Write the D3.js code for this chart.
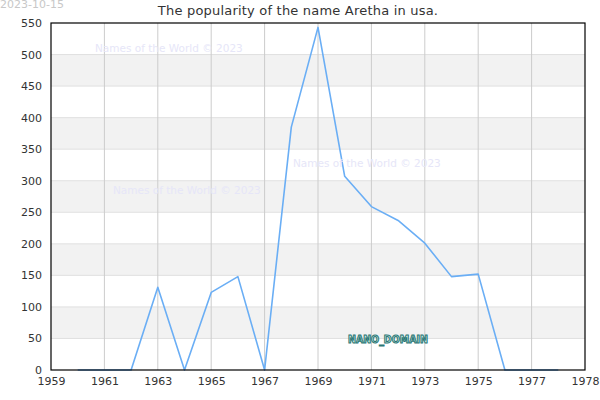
<!DOCTYPE html>
<html>
<head>
<meta charset="utf-8">
<script src="https://cdn.jsdelivr.net/npm/d3@7"></script>
<style>
  body { margin: 0; background: #fff; }
  text { font-family: "DejaVu Sans", sans-serif; }
</style>
</head>
<body>
<div class="chart"></div>
<script>
const years = [1960, 1961, 1962, 1963, 1964, 1965, 1966, 1967, 1968, 1969,
  1970, 1971, 1972, 1973, 1974, 1975, 1976, 1977, 1978];
const counts = [0, 0, 0, 131, 0, 123, 148, 0, 385, 543,
  307, 259, 237, 201, 148, 152, 0, 0, 0];
const xTicks = [1959, 1961, 1963, 1965, 1967, 1969, 1971, 1973, 1975, 1977];
const xEndLabel = '1978';
const yTicks = [0, 50, 100, 150, 200, 250, 300, 350, 400, 450, 500, 550];
const title = 'The popularity of the name Aretha in usa.';
const dateText = '2023-10-15';
const watermark = 'Names of the World © 2023';

let margin = { top: 23, right: 15, bottom: 30, left: 51 };
let fullWidth = 600;
let fullHeight = 400;
let width = fullWidth - margin.left - margin.right;
let height = fullHeight - margin.top - margin.bottom;

let svg = d3.select('.chart')
  .append('svg')
  .attr('width', fullWidth)
  .attr('height', fullHeight);

let g = svg.append('g')
  .attr('transform', `translate(${margin.left}, ${margin.top})`);

let x = d3.scaleLinear().domain([1959, 1979]).range([0, width]);
let y = d3.scaleLinear().domain([0, 550]).range([height, 0]);

// alternating bands
let bands = d3.range(0, yTicks.length - 1).filter(i => i % 2 === 1);
g.selectAll('.band')
  .data(bands)
  .enter()
  .append('rect')
  .attr('class', 'band')
  .attr('x', 0)
  .attr('width', width)
  .attr('y', i => y(yTicks[i + 1]))
  .attr('height', i => y(yTicks[i]) - y(yTicks[i + 1]))
  .style('fill', '#f2f2f2');

// horizontal grid
g.selectAll('.hgrid')
  .data(yTicks.slice(1, -1))
  .enter()
  .append('line')
  .attr('x1', 0).attr('x2', width)
  .attr('y1', d => y(d)).attr('y2', d => y(d))
  .style('stroke', '#e0e0e0');

// vertical grid
g.selectAll('.vgrid')
  .data(xTicks.slice(1))
  .enter()
  .append('line')
  .attr('x1', d => x(d)).attr('x2', d => x(d))
  .attr('y1', 0).attr('y2', height)
  .style('stroke', '#cccccc');

// watermarks
const marks = [[95, 52], [113, 194], [293, 167]];
svg.selectAll('.wm')
  .data(marks)
  .enter()
  .append('text')
  .attr('x', d => d[0])
  .attr('y', d => d[1])
  .style('font-size', '10.5px')
  .style('fill', '#e6e6f8')
  .text(watermark);

// line
let line = d3.line()
  .x((d, i) => x(years[i]))
  .y(d => y(d));

g.append('path')
  .datum(counts)
  .attr('d', line)
  .style('fill', 'none')
  .style('stroke', '#6aaef5')
  .style('stroke-width', 1.6)
  .style('stroke-linejoin', 'round');

// frame
g.append('rect')
  .attr('width', width)
  .attr('height', height)
  .style('fill', 'none')
  .style('stroke', '#000')
  .style('stroke-width', 1.2);

// axes
let xAxis = g.append('g')
  .attr('transform', `translate(0, ${height})`)
  .call(d3.axisBottom(x).tickValues(xTicks.concat([1979]))
    .tickFormat(d => d === 1979 ? xEndLabel : d)
    .tickSize(0).tickPadding(7));
let yAxis = g.append('g')
  .call(d3.axisLeft(y).tickValues(yTicks).tickSize(0).tickPadding(9));

[xAxis, yAxis].forEach(a => {
  a.select('.domain').remove();
  a.selectAll('text')
    .style('font-family', '"DejaVu Sans", sans-serif')
    .style('font-size', '11px')
    .style('fill', '#333');
});

// title and date
svg.append('text')
  .attr('x', 298)
  .attr('y', 15)
  .style('text-anchor', 'middle')
  .style('font-size', '13px')
  .style('letter-spacing', '0.2px')
  .style('fill', '#333')
  .text(title);

svg.append('text')
  .attr('x', 0)
  .attr('y', 8)
  .style('font-size', '11px')
  .style('fill', '#c8c8c8')
  .text(dateText);

// domain label
svg.append('text')
  .attr('x', 348)
  .attr('y', 343)
  .style('font-family', '"DejaVu Sans Condensed", "DejaVu Sans", sans-serif')
  .style('font-size', '10.5px')
  .style('font-weight', 'bold')
  .style('fill', '#cfeee8')
  .style('stroke', '#2a7775')
  .style('stroke-width', 1)
  .text('NANO_DOMAIN');
</script>
</body>
</html>
